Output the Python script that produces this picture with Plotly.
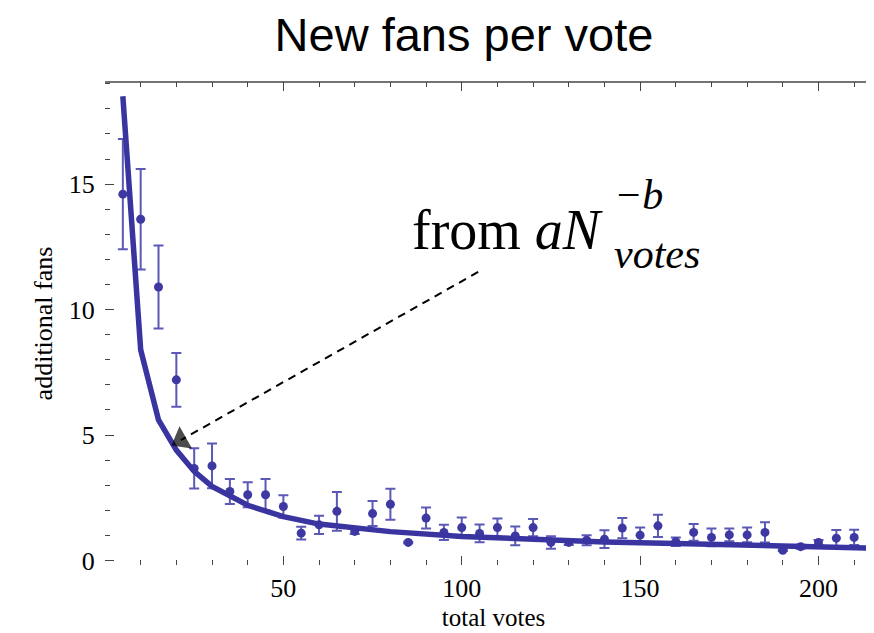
import plotly.graph_objects as go

# ---- data ----
votes = [5, 10, 15, 20, 25, 30, 35, 40, 45, 50, 55, 60, 65, 70, 75, 80, 85, 90, 95, 100,
         105, 110, 115, 120, 125, 130, 135, 140, 145, 150, 155, 160, 165, 170, 175, 180,
         185, 190, 195, 200, 205, 210, 215]
fans = [14.6, 13.6, 10.9, 7.2, 3.67, 3.77, 2.75, 2.62, 2.62, 2.15, 1.09, 1.42, 1.96, 1.16,
        1.87, 2.24, 0.72, 1.69, 1.12, 1.31, 1.08, 1.31, 0.98, 1.31, 0.72, 0.72, 0.81, 0.85,
        1.29, 1.01, 1.38, 0.75, 1.12, 0.92, 1.02, 1.02, 1.12, 0.41, 0.55, 0.72, 0.89, 0.92, 1.31]
fans_err = [2.2, 2.0, 1.65, 1.07, 0.8, 0.89, 0.5, 0.5, 0.63, 0.45, 0.25, 0.36, 0.77, 0.1,
            0.5, 0.62, 0.03, 0.42, 0.3, 0.4, 0.35, 0.36, 0.37, 0.34, 0.25, 0.1, 0.2, 0.35,
            0.4, 0.3, 0.44, 0.17, 0.33, 0.35, 0.25, 0.29, 0.4, 0.03, 0.08, 0.1, 0.32, 0.3, 0.49]

fit_votes = [5, 10, 15, 20, 25, 30, 40, 50, 60, 70, 80, 100, 120, 140, 160, 180, 200, 215]
fit_fans = [18.5, 8.4, 5.6, 4.4, 3.55, 2.95, 2.2, 1.75, 1.45, 1.3, 1.15, 0.96, 0.83, 0.74,
            0.68, 0.62, 0.55, 0.49]

x_major_ticks = [50, 100, 150, 200]
y_major_ticks = [0, 5, 10, 15]

# annotation anchor positions (data units)
arrow_start = (104.6, 11.5)
arrow_end = (21.3, 4.8)

# ---- layout geometry (pixels) ----
W, H = 874, 633
ML, MR, MT, MB = 97, 0, 74, 76
PW, PH = W - ML - MR, H - MT - MB


def px(xp):
    return (xp - ML) / PW


def py(yp):
    return (H - MB - yp) / PH


CURVE = "rgb(58,52,160)"
DOT = "rgb(62,56,162)"
ERR = "rgb(92,88,182)"
SERIF = "Liberation Serif, Times New Roman, serif"

fig = go.Figure()

fig.add_trace(go.Scatter(
    x=votes, y=fans, mode="markers",
    marker=dict(color=DOT, size=9),
    error_y=dict(type="data", array=fans_err, color=ERR, thickness=2, width=5),
    showlegend=False,
))

fig.add_trace(go.Scatter(
    x=fit_votes, y=fit_fans, mode="lines",
    line=dict(color=CURVE, width=5.5),
    showlegend=False,
))

# dashed arrow
fig.add_trace(go.Scatter(
    x=[arrow_start[0], arrow_end[0]], y=[arrow_start[1], arrow_end[1]],
    mode="lines+markers",
    line=dict(color="black", width=2, dash="8px,6px"),
    marker=dict(symbol=["circle", "triangle-up"], size=[0, 22], color="black",
                line=dict(width=0), angleref="previous"),
    showlegend=False, hoverinfo="skip",
))

fig.add_annotation(xref="paper", yref="paper", x=px(402), y=py(222),
                   xanchor="left", yanchor="middle", showarrow=False,
                   text="from <i>aN</i>", font=dict(family=SERIF, size=56, color="black"))
fig.add_annotation(xref="paper", yref="paper", x=px(604), y=py(187),
                   xanchor="left", yanchor="middle", showarrow=False,
                   text="<i>\u2212b</i>", font=dict(family=SERIF, size=42, color="black"))
fig.add_annotation(xref="paper", yref="paper", x=px(604), y=py(246),
                   xanchor="left", yanchor="middle", showarrow=False,
                   text="<i>votes</i>", font=dict(family=SERIF, size=42, color="black"))

# top frame line
fig.add_shape(type="line", xref="paper", yref="paper", x0=0, x1=1, y0=1, y1=1,
              line=dict(color="#444", width=1.5))

axis_common = dict(
    showgrid=False, zeroline=False, showline=True, linecolor="rgba(0,0,0,0)",
    mirror="ticks", ticks="inside", ticklen=9, tickwidth=1.3, tickcolor="#444",
    tickfont=dict(family=SERIF, size=26, color="black"), automargin=False,
)

fig.update_xaxes(
    range=[0, 217.8], tickvals=x_major_ticks,
    minor=dict(ticks="inside", dtick=10, tick0=0, ticklen=5, tickcolor="#444", tickwidth=1),
    title=dict(text="total votes", font=dict(family=SERIF, size=25, color="black"), standoff=6),
    ticklabelstandoff=0,
    **axis_common,
)
fig.update_yaxes(
    range=[-0.18, 19.07], tickvals=y_major_ticks,
    minor=dict(ticks="inside", dtick=1, tick0=0, ticklen=5, tickcolor="#444", tickwidth=1),
    title=dict(text="additional fans", font=dict(family=SERIF, size=26, color="black"), standoff=8),
    ticklabelstandoff=4,
    **axis_common,
)

fig.update_layout(
    width=W, height=H,
    margin=dict(l=ML, r=MR, t=MT, b=MB),
    paper_bgcolor="white", plot_bgcolor="white",
    title=dict(text="New fans per vote", x=456 / W, xanchor="center",
               y=1 - 27 / H, yanchor="middle", yref="container",
               font=dict(family="Liberation Sans, Arial, sans-serif", size=47, color="black")),
)

fig.write_html("out.html")
